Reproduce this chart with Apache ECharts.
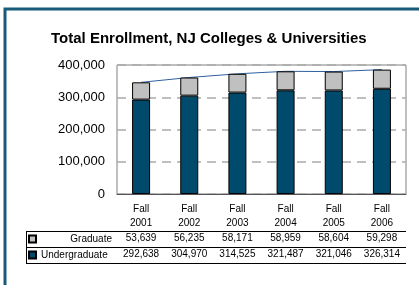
<!DOCTYPE html>
<html>
<head>
<meta charset="utf-8">
<script src="https://cdn.jsdelivr.net/npm/echarts@6/dist/echarts.min.js"></script>
<style>
  html, body { margin: 0; padding: 0; background: #fff; }
  #chart { width: 419px; height: 285px; }
</style>
</head>
<body>
<div id="chart"></div>
<script>
  // enrollment figures
  var years = ['2001', '2002', '2003', '2004', '2005', '2006'];
  var graduate = [53639, 56235, 58171, 58959, 58604, 59298];
  var undergraduate = [292638, 304970, 314525, 321487, 321046, 326314];
  var seriesNames = ['Graduate', 'Undergraduate'];

  var total = years.map(function (y, i) { return graduate[i] + undergraduate[i]; });
  function fmt(v) { return Number(v).toLocaleString('en-US'); }

  var font = '"Liberation Sans", Arial, Helvetica, sans-serif';
  var myChart = echarts.init(document.getElementById('chart'), null, { renderer: 'canvas' });

  var option = {
    animation: false,
    textStyle: { fontFamily: font, color: '#000' },
    title: {
      text: 'Total Enrollment, NJ Colleges & Universities',
      left: 51,
      top: 31,
      padding: 0,
      textStyle: { fontFamily: font, fontSize: 15, fontWeight: 'bold', color: '#000' }
    },
    grid: {
      left: 117, right: 13, top: 65, bottom: 91,
      containLabel: false,
      show: true,
      borderColor: '#808080',
      borderWidth: 1
    },
    legend: {
      data: seriesNames,
      orient: 'vertical',
      left: 28,
      top: 233,
      padding: 0,
      itemWidth: 7,
      itemHeight: 7,
      itemGap: 4,
      selectedMode: false,
      icon: 'rect',
      formatter: function (name) {
        return name === 'Graduate' ? '{r|' + name + '}' : '{l|' + name + '}';
      },
      textStyle: {
        fontFamily: font, fontSize: 10, color: '#000', lineHeight: 12,
        rich: {
          r: { width: 71, align: 'right', fontSize: 10, fontFamily: font, lineHeight: 12 },
          l: { width: 71, align: 'left', fontSize: 10, fontFamily: font, lineHeight: 12 }
        }
      }
    },
    xAxis: [{
      type: 'category',
      data: years,
      position: 'bottom',
      axisLine: { lineStyle: { color: '#555', width: 1 } },
      axisTick: { length: 69, lineStyle: { color: '#000', width: 1 } },
      axisLabel: {
        margin: 8, fontSize: 10, lineHeight: 14, color: '#000',
        formatter: function (v) { return 'Fall\n' + v; }
      }
    }, {
      type: 'category',
      data: years,
      position: 'bottom',
      offset: 37,
      axisLine: { show: false },
      axisTick: { show: false },
      axisLabel: {
        margin: 2, fontSize: 10, color: '#000',
        formatter: function (v, i) { return fmt(graduate[i]); }
      }
    }, {
      type: 'category',
      data: years,
      position: 'bottom',
      offset: 53,
      axisLine: { show: false },
      axisTick: { show: false },
      axisLabel: {
        margin: 2, fontSize: 10, color: '#000',
        formatter: function (v, i) { return fmt(undergraduate[i]); }
      }
    }],
    yAxis: {
      type: 'value',
      min: 0,
      max: 400000,
      interval: 100000,
      axisLine: { show: false },
      axisTick: { show: false },
      axisLabel: { margin: 12, fontSize: 13, color: '#000', formatter: fmt },
      splitLine: { lineStyle: { color: '#aaaaaa', width: 1.5, type: [9, 6] } }
    },
    series: [{
      name: 'Total',
      type: 'line',
      data: total,
      symbol: 'none',
      silent: true,
      lineStyle: { color: '#2f5f9e', width: 1 },
      z: 1
    }, {
      name: 'Undergraduate',
      type: 'bar',
      stack: 'all',
      barWidth: 18,
      data: undergraduate,
      itemStyle: { color: '#004b6c', borderColor: '#000', borderWidth: 1 }
    }, {
      name: 'Graduate',
      type: 'bar',
      stack: 'all',
      barWidth: 18,
      data: graduate,
      itemStyle: { color: '#c0c0c0', borderColor: '#000', borderWidth: 1 }
    }],
    graphic: [
      // outer frame
      { type: 'rect', shape: { x: 5, y: 9, width: 600, height: 400 },
        style: { fill: 'none', stroke: '#175a7a', lineWidth: 3 }, silent: true },
      // data table rules
      { type: 'line', shape: { x1: 26, y1: 231.5, x2: 406, y2: 231.5 }, style: { stroke: '#000', lineWidth: 1 } },
      { type: 'line', shape: { x1: 26, y1: 247.5, x2: 406, y2: 247.5 }, style: { stroke: '#000', lineWidth: 1 } },
      { type: 'line', shape: { x1: 26, y1: 263.5, x2: 406, y2: 263.5 }, style: { stroke: '#000', lineWidth: 1 } },
      { type: 'line', shape: { x1: 26.5, y1: 231, x2: 26.5, y2: 264 }, style: { stroke: '#000', lineWidth: 1 } }
    ]
  };

  option && myChart.setOption(option);
</script>
</body>
</html>
